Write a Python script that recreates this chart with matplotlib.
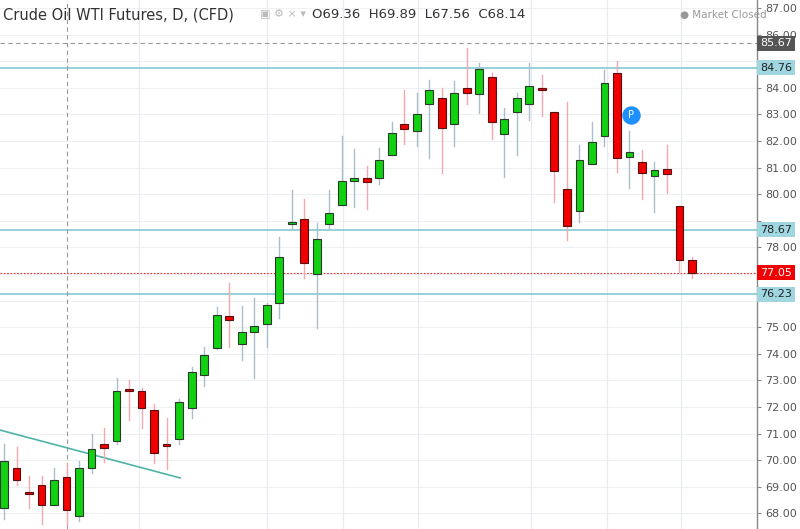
import matplotlib
matplotlib.use("Agg")
import matplotlib.pyplot as plt
from matplotlib.patches import Rectangle

# daily candles: open, high, low, close
opens = [68.2, 69.7, 68.78, 69.06, 68.3, 69.36, 67.9, 69.7, 70.6, 70.7,
         72.65, 72.6, 71.9, 70.56, 70.8, 71.95, 73.2, 74.2, 75.4, 74.35,
         74.8, 75.1, 75.9, 78.88, 79.05, 77.0, 78.87, 79.6, 80.5, 80.6,
         80.6, 81.47, 82.63, 82.37, 83.38, 83.6, 82.63, 84.0, 83.76, 84.4,
         82.26, 83.08, 83.38, 83.95, 83.08, 80.2, 79.36, 81.13, 82.18, 84.55,
         81.4, 81.2, 80.67, 80.95, 79.55, 77.52]
highs = [70.6, 70.5, 69.4, 69.4, 69.7, 69.89, 69.95, 71.0, 71.2, 73.1,
         73.0, 72.7, 72.1, 71.6, 72.3, 73.5, 74.25, 75.75, 76.65, 75.8,
         76.1, 75.9, 78.4, 80.15, 79.8, 78.9, 80.15, 82.2, 81.7, 81.05,
         81.75, 82.7, 83.9, 83.8, 84.3, 84.0, 84.25, 85.5, 84.93, 84.55,
         83.23, 83.8, 84.93, 84.48, 83.1, 83.47, 81.85, 82.7, 84.67, 85.0,
         82.37, 81.66, 81.2, 81.84, 79.55, 77.63]
lows = [67.8, 69.05, 68.2, 67.6, 68.3, 67.56, 67.7, 69.5, 69.93, 70.6,
        71.5, 71.2, 69.9, 69.65, 70.6, 71.6, 72.8, 74.17, 74.25, 73.75,
        73.1, 74.25, 75.35, 78.7, 76.85, 74.95, 78.7, 79.6, 79.5, 79.45,
        80.4, 81.47, 81.9, 81.8, 81.36, 80.8, 81.8, 83.4, 83.05, 82.07,
        80.65, 81.47, 82.8, 82.93, 79.7, 78.27, 78.95, 81.13, 81.8, 80.83,
        80.23, 79.8, 79.33, 80.05, 77.07, 76.85]
closes = [69.96, 69.25, 68.74, 68.3, 69.25, 68.14, 69.7, 70.4, 70.45, 72.6,
          72.6, 71.95, 70.25, 70.54, 72.2, 73.3, 73.95, 75.45, 75.25, 74.8,
          75.05, 75.85, 77.65, 78.92, 77.4, 78.3, 79.3, 80.5, 80.6, 80.45,
          81.3, 82.3, 82.45, 83.0, 83.9, 82.5, 83.8, 83.8, 84.7, 82.7,
          82.82, 83.6, 84.06, 83.93, 80.87, 78.8, 81.28, 81.96, 84.18, 81.36,
          81.58, 80.8, 80.9, 80.76, 77.52, 77.05]

teal_levels = [84.76, 78.67, 76.23]
top_level = 85.67
last_price = 77.05
month_lines = [10.8, 21.0, 27.1, 33.1, 42.1, 48.2, 54.1]
y_ticks = list(range(68, 88))
hidden_ticks = [85, 79, 77, 76]

fig = plt.figure(figsize=(8, 5.29), dpi=100)
ax = fig.add_axes([0, 0, 757 / 800, 1])
ax.set_xlim(-0.32, 60.2)
ax.set_ylim(67.41, 87.30)

for t in y_ticks:
    ax.axhline(t, color="#eef1f4", lw=0.8, zorder=0)
for m in month_lines:
    ax.axvline(m, color="#e6ebef", lw=0.8, zorder=0)

for lv in teal_levels:
    ax.axhline(lv, color="#8ecfd6", lw=1.3, zorder=1)
ax.axhline(top_level, color="#999999", lw=0.8, ls=(0, (4, 3)), zorder=1)
ax.axhline(last_price, color="#e03030", lw=0.8, ls=(0, (1.5, 1.5)), zorder=1)
ax.axvline(5, color="#999999", lw=0.8, ls=(0, (4, 3)), zorder=1)

# trend line
ax.plot([-0.32, 14.08], [71.13, 69.33], color="#4fb3a9", lw=1.2, zorder=2)

w = 0.62
for i, (o, h, l, c) in enumerate(zip(opens, highs, lows, closes)):
    up = c >= o
    wick = "#a9bfcc" if up else "#f3a7ae"
    face = "#12d012" if up else "#f00000"
    ax.plot([i, i], [l, h], color=wick, lw=1, zorder=3)
    lo, hi = min(o, c), max(o, c)
    ax.add_patch(Rectangle((i - w / 2, lo), w, max(hi - lo, 0.06),
                           facecolor=face, edgecolor="#2a3a2a" if up else "#5a1010",
                           lw=0.8, zorder=4))

ax.scatter([50.1], [82.97], s=150, color="#1e90ff", zorder=5)
ax.text(50.1, 82.97, "P", color="white", fontsize=7, ha="center", va="center", zorder=6)

for s in ax.spines.values():
    s.set_visible(False)
ax.set_xticks([])
ax.yaxis.tick_right()
ax.set_yticks(y_ticks)
ax.set_yticklabels(["" if t in hidden_ticks else "%.2f" % t for t in y_ticks],
                   color="#555555", fontsize=8)
ax.tick_params(axis="y", length=3, color="#888888", pad=3)
ax.axvline(60.2, color="#888888", lw=1, clip_on=False)

def tag(v, fc, tc):
    ax.text(1.004, v, "%.2f" % v, transform=ax.get_yaxis_transform(), fontsize=8,
            color=tc, va="center", ha="left",
            bbox=dict(boxstyle="square,pad=0.25", fc=fc, ec="none"), clip_on=False, zorder=10)

tag(top_level, "#555555", "white")
for lv in teal_levels:
    tag(lv, "#9fd6df", "#222222")
tag(last_price, "#f00000", "white")

fig.text(0.004, 0.985, "Crude Oil WTI Futures, D, (CFD)", fontsize=10.5, color="#333333", va="top")
fig.text(0.325, 0.985, "\u25a3 \u2699 \u00d7 \u25be", fontsize=8, color="#bbbbbb", va="top")
fig.text(0.39, 0.985, "O69.36  H69.89  L67.56  C68.14", fontsize=9.5, color="#333333", va="top")
fig.text(0.85, 0.982, "\u25cf Market Closed", fontsize=7.5, color="#999999", va="top")

fig.savefig("out.png", dpi=100, facecolor="white")
